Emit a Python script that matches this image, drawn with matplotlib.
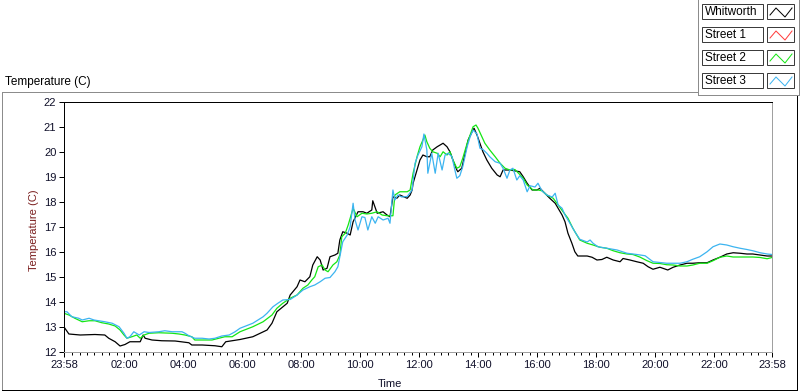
import numpy as np
import matplotlib
matplotlib.use('Agg')
import matplotlib.pyplot as plt
from matplotlib.patches import Rectangle

plt.rcParams['font.family'] = ['Liberation Sans', 'DejaVu Sans']

# time = minutes after midnight (the chart starts at 23:58 the day before)
whit_t = [-2, 8, 31, 61, 81, 89, 102, 112, 122, 132, 153, 159, 163, 177, 197, 224, 252, 258, 279, 305,
          319, 327, 340, 356, 382, 411, 421, 431, 452, 458, 472, 478, 488, 498, 504, 513, 519, 525, 533, 539,
          549, 555, 559, 565, 574, 580, 586, 596, 606, 614, 624, 626, 635, 647, 655, 661, 667, 675, 681, 696,
          702, 706, 708, 716, 722, 728, 736, 742, 748, 757, 763, 769, 777, 783, 789, 797, 799, 807, 814, 820,
          828, 832, 838, 844, 850, 858, 868, 879, 885, 891, 905, 925, 932, 940, 950, 960, 966, 976, 986, 997,
          1003, 1011, 1017, 1023, 1031, 1037, 1043, 1062, 1072, 1082, 1092, 1102, 1115, 1129, 1135, 1149, 1163, 1176, 1186, 1196,
          1210, 1226, 1237, 1251, 1265, 1277, 1291, 1306, 1318, 1332, 1346, 1359, 1373, 1387, 1399, 1414, 1428, 1438]
whit_v = [13.0, 12.72, 12.68, 12.7, 12.68, 12.55, 12.41, 12.24, 12.3, 12.41, 12.41, 12.68, 12.55, 12.48, 12.45, 12.44, 12.37, 12.28, 12.28, 12.25,
          12.21, 12.41, 12.45, 12.5, 12.61, 12.88, 13.15, 13.61, 13.95, 14.28, 14.61, 14.88, 14.81, 15.01, 15.48, 15.81, 15.68, 15.28, 15.35, 15.81,
          15.88, 15.95, 16.48, 16.81, 16.75, 16.68, 17.21, 17.61, 17.61, 17.55, 17.68, 18.05, 17.55, 17.61, 17.48, 17.41, 18.21, 18.15, 18.28, 18.15,
          18.28, 18.48, 18.75, 19.28, 19.68, 19.88, 19.81, 19.81, 20.08, 20.21, 20.28, 20.35, 20.21, 20.01, 19.68, 19.28, 19.21, 19.35, 19.95, 20.48,
          20.81, 20.95, 20.68, 20.35, 20.01, 19.68, 19.35, 19.08, 19.01, 19.28, 19.28, 19.21, 19.01, 18.75, 18.48, 18.48, 18.55, 18.35, 18.15, 17.95,
          17.75, 17.48, 17.21, 16.75, 16.35, 16.01, 15.84, 15.84, 15.79, 15.68, 15.7, 15.79, 15.68, 15.61, 15.74, 15.68, 15.61, 15.55, 15.41, 15.31,
          15.39, 15.28, 15.39, 15.48, 15.55, 15.55, 15.57, 15.57, 15.68, 15.79, 15.92, 15.97, 15.95, 15.92, 15.92, 15.88, 15.84, 15.84]

# Street 1 shows no data on the chart
st1_t = []
st1_v = []

st2_t = [-2, 8, 20, 35, 49, 61, 75, 89, 102, 112, 120, 126, 136, 146, 153, 161, 171, 191, 218, 232,
         244, 258, 264, 279, 299, 313, 325, 340, 356, 382, 403, 421, 431, 443, 458, 472, 484, 494, 502, 508,
         515, 523, 529, 535, 545, 553, 559, 563, 570, 576, 584, 586, 594, 604, 614, 624, 635, 645, 655, 667,
         671, 681, 696, 702, 708, 716, 722, 728, 732, 736, 742, 748, 757, 763, 769, 777, 783, 789, 797, 803,
         809, 818, 824, 830, 836, 840, 848, 854, 864, 875, 885, 895, 905, 915, 925, 932, 940, 952, 962, 970,
         980, 993, 1003, 1013, 1023, 1033, 1041, 1047, 1062, 1074, 1088, 1102, 1115, 1129, 1143, 1155, 1169, 1184, 1196, 1210,
         1224, 1237, 1251, 1265, 1277, 1291, 1306, 1318, 1332, 1346, 1359, 1373, 1387, 1399, 1414, 1428, 1438]
st2_v = [13.55, 13.48, 13.35, 13.21, 13.25, 13.25, 13.17, 13.12, 13.04, 12.88, 12.68, 12.55, 12.61, 12.68, 12.55, 12.68, 12.75, 12.77, 12.75, 12.72,
         12.68, 12.61, 12.48, 12.48, 12.48, 12.55, 12.61, 12.61, 12.81, 13.01, 13.21, 13.48, 13.75, 13.95, 14.15, 14.28, 14.55, 14.68, 14.88, 15.01,
         15.41, 15.48, 15.28, 15.21, 15.48, 15.61, 15.88, 16.61, 16.75, 17.08, 17.61, 17.75, 17.41, 17.55, 17.52, 17.55, 17.61, 17.48, 17.45, 17.45,
         18.28, 18.41, 18.41, 18.48, 19.15, 19.81, 20.21, 20.48, 20.68, 20.41, 20.15, 20.01, 19.95, 19.81, 20.01, 19.88, 20.01, 19.68, 19.35, 19.41,
         19.75, 20.35, 20.68, 21.01, 21.08, 20.95, 20.61, 20.35, 20.08, 19.81, 19.55, 19.35, 19.28, 19.3, 19.1, 18.95, 18.68, 18.48, 18.48, 18.45,
         18.28, 18.15, 17.88, 17.61, 17.35, 16.95, 16.68, 16.48, 16.35, 16.28, 16.19, 16.15, 16.05, 15.97, 15.92, 15.9, 15.8, 15.65, 15.55, 15.54,
         15.49, 15.48, 15.44, 15.44, 15.48, 15.55, 15.55, 15.65, 15.79, 15.84, 15.8, 15.8, 15.8, 15.8, 15.78, 15.73, 15.78]

st3_t = [-2, 4, 14, 28, 35, 49, 59, 69, 81, 96, 110, 120, 126, 132, 140, 151, 161, 171, 191, 203,
         218, 238, 244, 252, 264, 279, 293, 305, 319, 334, 346, 356, 382, 403, 411, 423, 433, 443, 458, 472,
         484, 498, 508, 519, 529, 539, 549, 555, 559, 565, 574, 580, 586, 590, 596, 604, 610, 616, 624, 631,
         637, 647, 657, 661, 667, 671, 677, 685, 696, 706, 712, 718, 726, 730, 736, 738, 746, 753, 759, 767,
         773, 779, 787, 793, 797, 803, 809, 818, 824, 830, 838, 844, 850, 858, 864, 875, 885, 891, 899, 905,
         911, 919, 925, 932, 940, 946, 956, 962, 970, 980, 991, 997, 1003, 1011, 1017, 1027, 1037, 1047, 1062, 1068,
         1074, 1084, 1102, 1123, 1143, 1163, 1180, 1196, 1210, 1224, 1251, 1265, 1277, 1291, 1306, 1318, 1332, 1346, 1359, 1373,
         1387, 1399, 1414, 1428, 1438]
st3_v = [13.61, 13.61, 13.41, 13.35, 13.28, 13.35, 13.28, 13.25, 13.21, 13.15, 13.01, 12.75, 12.55, 12.61, 12.81, 12.68, 12.81, 12.78, 12.81, 12.85,
         12.81, 12.81, 12.75, 12.65, 12.55, 12.55, 12.52, 12.55, 12.64, 12.68, 12.81, 12.95, 13.15, 13.41, 13.55, 13.81, 13.95, 14.08, 14.1, 14.28,
         14.48, 14.61, 14.68, 14.81, 14.95, 14.98, 15.21, 15.41, 15.81, 16.41, 16.68, 17.01, 17.95, 17.28, 16.88, 17.41, 17.38, 16.88, 17.41, 17.15,
         17.41, 17.28, 17.35, 17.15, 18.48, 18.08, 18.28, 18.2, 18.22, 18.48, 19.55, 19.88, 20.21, 20.72, 20.08, 19.15, 19.95, 19.15, 19.95, 19.28,
         19.88, 19.95, 19.82, 19.28, 18.95, 19.05, 19.41, 20.21, 20.61, 20.88, 20.72, 20.15, 20.1, 19.95, 19.81, 19.61, 19.55, 19.35, 18.95, 19.28,
         19.35, 18.88, 19.05, 18.88, 18.41, 18.65, 18.6, 18.75, 18.45, 18.28, 18.2, 18.35, 17.88, 17.75, 17.48, 17.15, 16.81, 16.51, 16.4, 16.48,
         16.35, 16.21, 16.15, 16.08, 15.95, 15.9, 15.85, 15.61, 15.58, 15.55, 15.55, 15.61, 15.71, 15.81, 16.01, 16.21, 16.32, 16.28, 16.21, 16.15,
         16.1, 16.05, 15.97, 15.92, 15.9]

names = ['Whitworth', 'Street 1', 'Street 2', 'Street 3']
colors = ['#000000', '#ff3c3c', '#14e614', '#3cb4f0']
times = [whit_t, st1_t, st2_t, st3_t]
values = [whit_v, st1_v, st2_v, st3_v]

x_start, x_end = -2, 1438
major_ticks = [x_start] + list(range(120, 1440, 120)) + [x_end]
major_labels = ['23:58'] + ['%02d:00' % (m // 60) for m in range(120, 1440, 120)] + ['23:58']
minor_ticks = [m for m in range(15, 1438, 15) if m % 120 != 0]

W, H = 800, 392
PX = 0.72   # one pixel in points
fig = plt.figure(figsize=(W / 100, H / 100), dpi=100)

# plot area in pixels: x 64..772, y 102..352
ax = fig.add_axes([64 / W, 1 - 352 / H, 708 / W, 250 / H])
for t, v, c in zip(times, values, colors):
    ax.plot(t, v, color=c, lw=0.9)

ax.set_xlim(x_start, x_end)
ax.set_ylim(12, 22)
ax.set_yticks(np.arange(12, 23, 1))
ax.set_xticks(major_ticks)
ax.set_xticklabels(major_labels)
ax.set_xticks(minor_ticks, minor=True)
ax.tick_params(axis='both', which='major', direction='out', length=3.5, width=PX,
               labelsize=8, pad=2, color='black', labelcolor='#10102a')
ax.tick_params(axis='x', which='minor', direction='out', length=2.2, width=PX, color='black')
ax.spines['left'].set_color('black')
ax.spines['top'].set_color('black')
ax.spines['right'].set_color('#a0a0a0')
ax.spines['bottom'].set_color('#a0a0a0')
for s in ax.spines.values():
    s.set_linewidth(PX)

fig.text(34 / W, 1 - 230 / H, 'Temperature (C)', rotation=90, ha='center', va='center',
         fontsize=8, color='#7a1e1e')
fig.text(390 / W, 1 - 384 / H, 'Time', ha='center', va='center', fontsize=8, color='#10102a')
fig.text(5 / W, 1 - 82 / H, 'Temperature (C)', ha='left', va='center', fontsize=8.5, color='black')

# overlay in pixel units for the panel frame and the plot legend
ov = fig.add_axes([0, 0, 1, 1])
ov.set_xlim(0, W)
ov.set_ylim(H, 0)
ov.axis('off')
ov.patch.set_visible(False)

gray = '#8c8c8c'
kw = dict(lw=PX, antialiased=False)
ov.plot([2, 698], [92, 92], color=gray, **kw)
ov.plot([2, 2], [92, 390], color=gray, **kw)
ov.plot([2, 797], [390, 390], color='black', **kw)
ov.plot([797, 797], [96, 390], color='black', **kw)
ov.plot([698, 698, 799], [0, 95, 95], color=gray, **kw)
ov.plot([799, 799], [0, 95], color=gray, **kw)

for i, (name, c) in enumerate(zip(names, colors)):
    y0 = 4 + i * 23
    ov.add_patch(Rectangle((702, y0), 61, 15, facecolor='white', edgecolor='#3c3c3c', lw=PX))
    ov.text(705, y0 + 8, name, ha='left', va='center', fontsize=8.5, color='black')
    ov.add_patch(Rectangle((767, y0), 27, 15, facecolor='white', edgecolor='#3c3c3c', lw=PX))
    ov.plot([770, 776, 785, 792], [y0 + 11, y0 + 4, y0 + 13, y0 + 4], color=c, lw=PX)

fig.savefig('out.png', dpi=100)
